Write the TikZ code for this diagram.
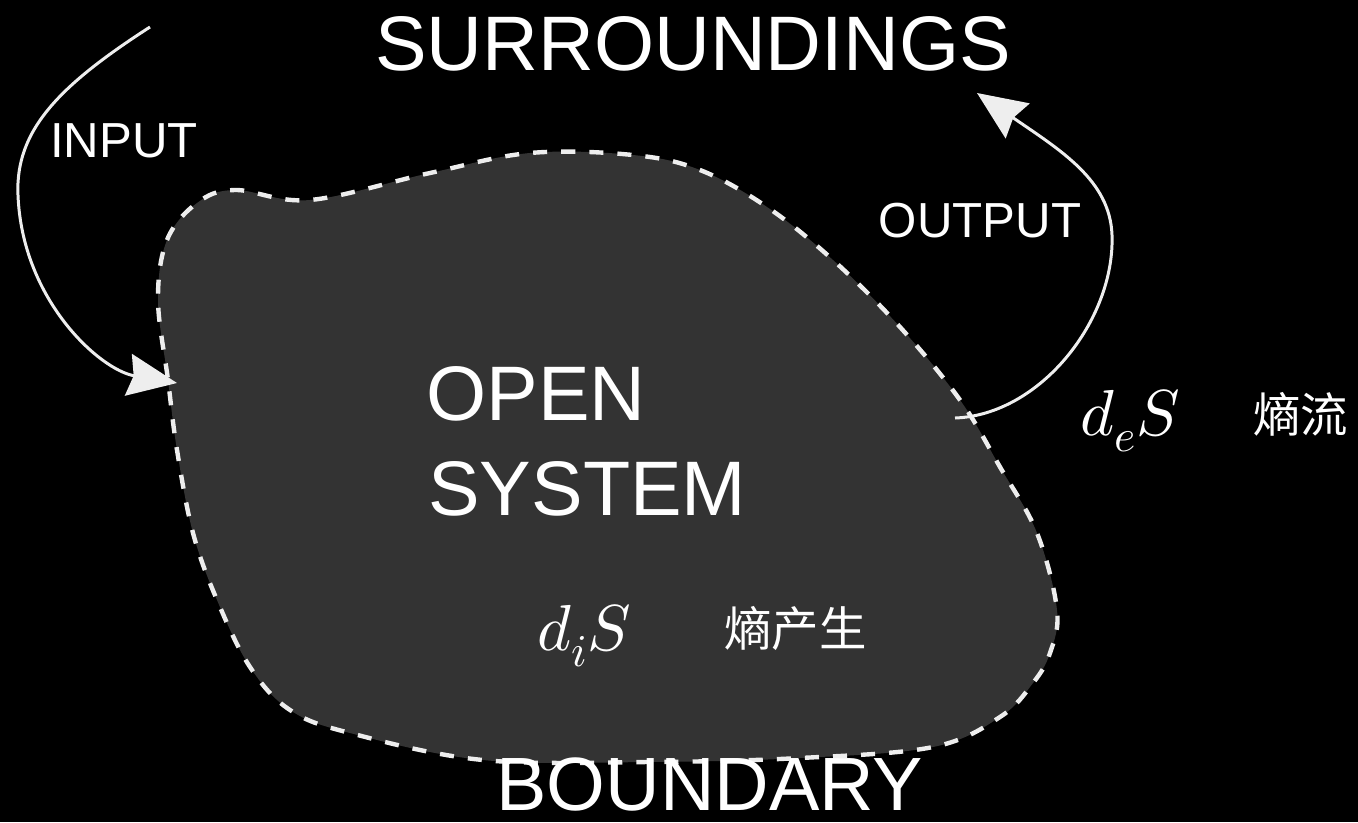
\documentclass[tikz,border=0pt]{standalone}
\usepackage{fontspec}
\usepackage{unicode-math}
\usepackage{tikz}
\usepackage{xcolor}
\usetikzlibrary{arrows.meta}
\setmainfont{Liberation Sans}
\newfontfamily\cjk{Noto Sans CJK SC}
\definecolor{blobgrey}{RGB}{51,51,51}
\definecolor{lineoff}{RGB}{238,238,238}
\tikzset{
  label/.style={text=white, inner sep=0pt},
  flow/.style={draw=lineoff, line width=1.7pt, -{Stealth[length=28pt, width=24pt, inset=3pt]}},
  boundary/.style={draw=lineoff, fill=blobgrey, line width=2.5pt, dash pattern=on 8pt off 8pt}
}

\begin{document}
\begin{tikzpicture}[x=0.02cm, y=-0.02cm]
  % Background
  \fill[black] (0,0) rectangle (1358,822);
  \useasboundingbox (0,0) rectangle (1358,822);

  % Open system with its boundary
  \draw[boundary] plot[smooth cycle, tension=0.6] coordinates {
    (158,300) (167,240) (197,203) (235,190) (310,200) (430,173) (530,153)
    (633,155) (700,170) (767,207) (833,260) (900,327) (960,400) (1000,467)
    (1037,533) (1057,610) (1050,653) (1033,683) (1000,717) (933,747)
    (800,758) (650,762) (483,760) (350,733) (290,710) (250,667) (217,600)
    (193,533) (177,450) (168,380)};

  % Labels
  \node[label, anchor=base] (surr) at (693,70) {\fontsize{44}{52}\selectfont SURROUNDINGS};
  \node[label, anchor=base] (bound) at (710,810) {\fontsize{43}{51}\selectfont BOUNDARY};
  \node[label, anchor=base west] (open) at (426,420) {\fontsize{44}{52}\selectfont OPEN};
  \node[label, anchor=base west] (system) at (428,515) {\fontsize{44}{52}\selectfont SYSTEM};
  \node[label, anchor=base] (input) at (124,157) {\fontsize{28}{34}\selectfont INPUT};
  \node[label, anchor=base] (output) at (980,237) {\fontsize{28}{34}\selectfont OUTPUT};

  % Entropy terms
  \node[label, anchor=base west] (deS) at (1080,435) {\fontsize{37}{44}\selectfont $d_eS$};
  \node[label, anchor=base west] (flowcn) at (1253,432) {\fontsize{27}{32}\selectfont\cjk 熵流};
  \node[label, anchor=base west] (diS) at (537,650) {\fontsize{37}{44}\selectfont $d_iS$};
  \node[label, anchor=base west] (prodcn) at (724,646) {\fontsize{27}{32}\selectfont\cjk 熵产生};

  % Input arrow
  \coordinate (inS) at (150,27);
  \coordinate (inE) at (177,383);
  \draw[flow] (inS) .. controls (60,85) and (15,130) .. (18,195)
                    .. controls (22,300) and (100,370) .. (inE);

  % Output arrow
  \coordinate (outS) at (955,418);
  \coordinate (outE) at (977,93);
  \draw[flow] (outS) .. controls (1040,415) and (1115,320) .. (1112,235)
                     .. controls (1110,180) and (1060,150) .. (outE);
\end{tikzpicture}
\end{document}
